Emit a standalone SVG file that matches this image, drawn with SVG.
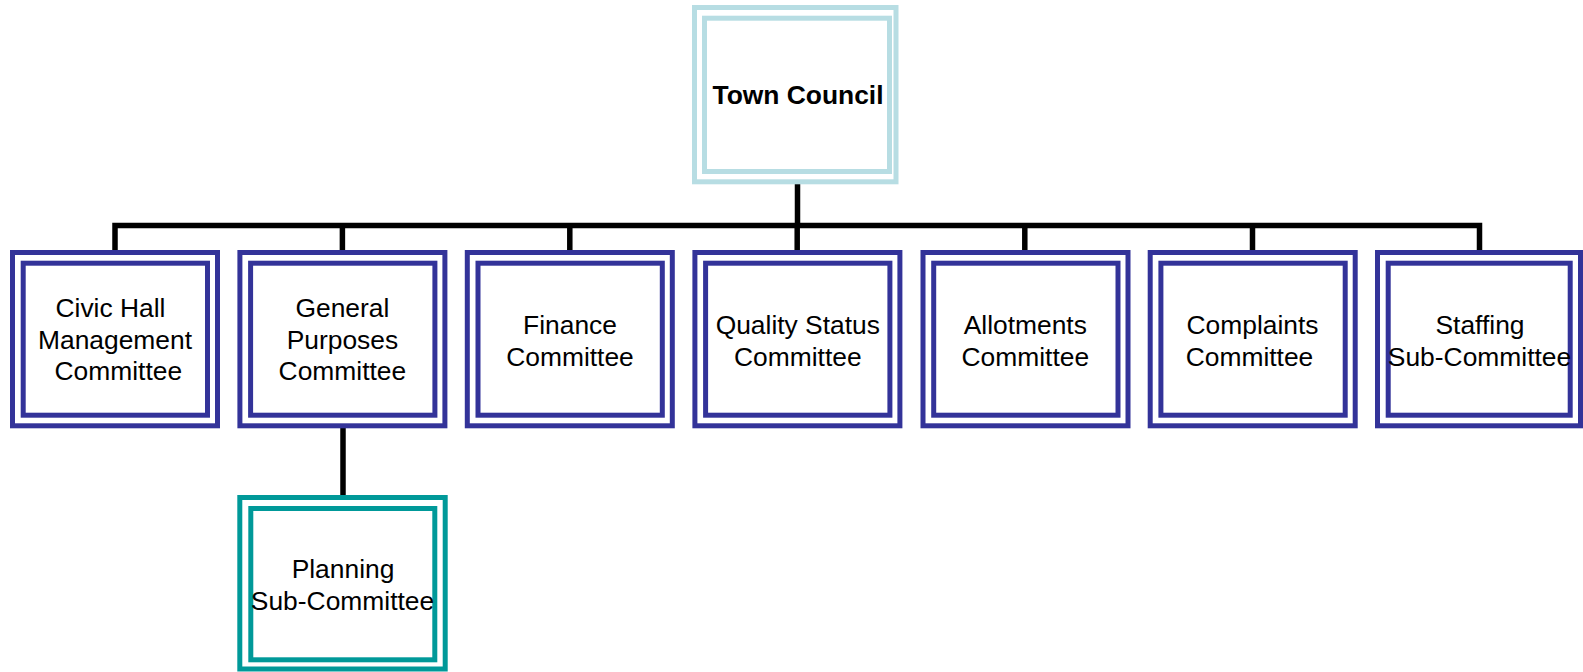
<svg xmlns="http://www.w3.org/2000/svg" width="1583" height="672" viewBox="0 0 1583 672">
  <style>
    .frame { fill: none; stroke-width: 5; }
    .blue { stroke: #333399; }
    .teal { stroke: #009999; }
    .pale { stroke: #b7dde3; }
    .label { font-family: "Liberation Sans", Arial, sans-serif; font-size: 26.4px; fill: #000; text-anchor: middle; }
    .bold { font-weight: bold; }
    .link { fill: none; stroke: #000; stroke-width: 5.5; stroke-linejoin: miter; stroke-linecap: butt; }
  </style>
  <rect width="1583" height="672" fill="#fff"/>

  <!-- connectors -->
  <g id="connectors">
    <path class="link" d="M797.5,184 V225.5"/>
    <path class="link" d="M115,251 V225.5 H1479.5 V251"/>
    <path class="link" d="M342.4,225.5 V251"/>
    <path class="link" d="M569.8,225.5 V251"/>
    <path class="link" d="M797.2,225.5 V251"/>
    <path class="link" d="M1024.8,225.5 V251"/>
    <path class="link" d="M1252.5,225.5 V251"/>
    <path class="link" d="M343,427 V496"/>
  </g>

  <!-- top level -->
  <g id="town-council">
    <rect class="frame pale" x="694.5" y="7.5" width="201.5" height="174.3"/>
    <rect class="frame pale" x="704.5" y="18.2" width="185" height="153.3"/>
    <text class="label bold" x="798" y="104">Town Council</text>
  </g>

  <!-- committees -->
  <g id="civic-hall">
    <rect class="frame blue" x="12.5" y="252.5" width="205" height="173.3"/>
    <rect class="frame blue" x="23.2" y="263.2" width="184.3" height="152"/>
    <text class="label" x="110.5" y="317">Civic Hall</text>
    <text class="label" x="115" y="348.7">Management</text>
    <text class="label" x="118.3" y="380.4">Committee</text>
  </g>

  <g id="general-purposes">
    <rect class="frame blue" x="239.9" y="252.5" width="205" height="173.3"/>
    <rect class="frame blue" x="250.6" y="263.2" width="184.3" height="152"/>
    <text class="label" x="342.4" y="317">General</text>
    <text class="label" x="342.4" y="348.7">Purposes</text>
    <text class="label" x="342.4" y="380.4">Committee</text>
  </g>

  <g id="finance">
    <rect class="frame blue" x="467.3" y="252.5" width="205" height="173.3"/>
    <rect class="frame blue" x="478" y="263.2" width="184.3" height="152"/>
    <text class="label" x="570" y="334">Finance</text>
    <text class="label" x="570" y="365.7">Committee</text>
  </g>

  <g id="quality-status">
    <rect class="frame blue" x="694.9" y="252.5" width="205" height="173.3"/>
    <rect class="frame blue" x="705.6" y="263.2" width="184.3" height="152"/>
    <text class="label" x="797.8" y="334">Quality Status</text>
    <text class="label" x="797.8" y="365.7">Committee</text>
  </g>

  <g id="allotments">
    <rect class="frame blue" x="923" y="252.5" width="205" height="173.3"/>
    <rect class="frame blue" x="933.7" y="263.2" width="184.3" height="152"/>
    <text class="label" x="1025.3" y="334">Allotments</text>
    <text class="label" x="1025.3" y="365.7">Committee</text>
  </g>

  <g id="complaints">
    <rect class="frame blue" x="1150.2" y="252.5" width="205" height="173.3"/>
    <rect class="frame blue" x="1160.9" y="263.2" width="184.3" height="152"/>
    <text class="label" x="1252.5" y="334">Complaints</text>
    <text class="label" x="1249.5" y="365.7">Committee</text>
  </g>

  <g id="staffing">
    <rect class="frame blue" x="1377.5" y="252.5" width="203" height="173.3"/>
    <rect class="frame blue" x="1388.2" y="263.2" width="182" height="152"/>
    <text class="label" x="1480" y="334">Staffing</text>
    <text class="label" x="1479.5" y="365.7">Sub-Committee</text>
  </g>

  <!-- sub-committee under General Purposes -->
  <g id="planning">
    <rect class="frame teal" x="239.8" y="497.5" width="205.4" height="171.5"/>
    <rect class="frame teal" x="250.8" y="508.5" width="184" height="151.3"/>
    <text class="label" x="343" y="578.3">Planning</text>
    <text class="label" x="342.5" y="609.5">Sub-Committee</text>
  </g>
</svg>
